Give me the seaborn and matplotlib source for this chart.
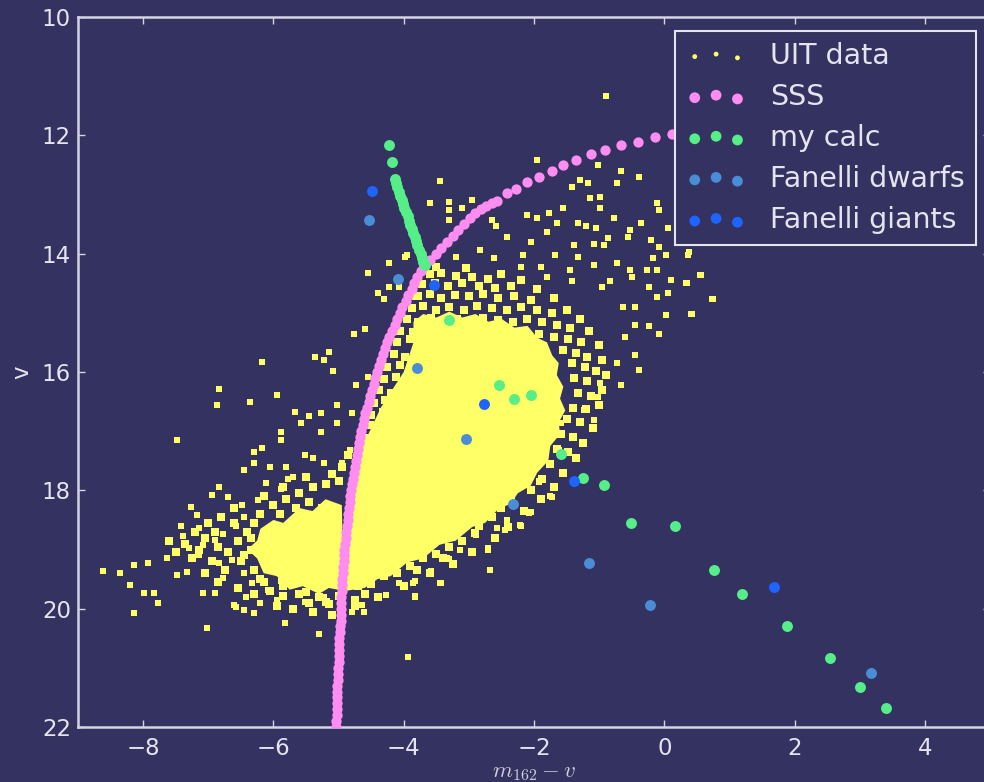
import numpy as np
import matplotlib
matplotlib.use("Agg")
import matplotlib.pyplot as plt
import seaborn as sns

BG = "#333260"
FG = "#e4e4ee"
C_UIT = "#ffff66"
C_SSS = "#ff8cf0"
C_CALC = "#55ee88"
C_DWARF = "#4b8cd7"
C_GIANT = "#1e64ff"

# ---------------- data (colour m162-v, magnitude v) ----------------
sss_points = [
    (-5.04, 22.0), (-5.04, 21.9), (-5.03, 21.8), (-5.03, 21.7), (-5.03, 21.6), (-5.02, 21.5),
    (-5.02, 21.4), (-5.02, 21.3), (-5.01, 21.2), (-5.01, 21.1), (-5.01, 21.0), (-5.00, 20.9),
    (-5.00, 20.8), (-4.99, 20.7), (-4.99, 20.6), (-4.99, 20.5), (-4.98, 20.4), (-4.98, 20.3),
    (-4.97, 20.2), (-4.97, 20.1), (-4.97, 20.0), (-4.96, 19.9), (-4.96, 19.8), (-4.95, 19.7),
    (-4.95, 19.6), (-4.94, 19.5), (-4.93, 19.4), (-4.93, 19.3), (-4.92, 19.2), (-4.92, 19.1),
    (-4.91, 19.0), (-4.90, 18.9), (-4.89, 18.8), (-4.88, 18.7), (-4.87, 18.6), (-4.86, 18.5),
    (-4.85, 18.4), (-4.84, 18.3), (-4.83, 18.2), (-4.82, 18.1), (-4.81, 18.0), (-4.79, 17.9),
    (-4.78, 17.8), (-4.77, 17.7), (-4.75, 17.6), (-4.74, 17.5), (-4.72, 17.4), (-4.70, 17.3),
    (-4.69, 17.2), (-4.67, 17.1), (-4.65, 17.0), (-4.63, 16.9), (-4.61, 16.8), (-4.59, 16.7),
    (-4.56, 16.6), (-4.54, 16.5), (-4.52, 16.4), (-4.49, 16.3), (-4.46, 16.2), (-4.44, 16.1),
    (-4.41, 16.0), (-4.38, 15.9), (-4.35, 15.8), (-4.32, 15.7), (-4.29, 15.6), (-4.25, 15.5),
    (-4.22, 15.4), (-4.18, 15.3), (-4.14, 15.2), (-4.10, 15.1), (-4.06, 15.0), (-4.02, 14.9),
    (-3.97, 14.8), (-3.93, 14.7), (-3.88, 14.6), (-3.84, 14.5), (-3.79, 14.4), (-3.74, 14.3),
    (-3.69, 14.2), (-3.60, 14.1), (-3.51, 14.0), (-3.42, 13.9), (-3.34, 13.8), (-3.25, 13.7),
    (-3.16, 13.6), (-3.07, 13.5), (-2.98, 13.4), (-2.90, 13.31), (-2.81, 13.25), (-2.73, 13.20),
    (-2.65, 13.15), (-2.57, 13.11), (-2.42, 12.98), (-2.27, 12.90), (-2.11, 12.79), (-1.93, 12.70),
    (-1.73, 12.60), (-1.55, 12.50), (-1.35, 12.42), (-1.13, 12.32), (-0.91, 12.25), (-0.66, 12.17),
    (-0.41, 12.11), (-0.15, 12.02), (0.12, 11.97), (0.40, 11.91), (0.68, 11.86),
]

calc_points = [
    (-4.23, 12.16), (-4.18, 12.45),
    (-4.14, 12.74), (-4.12, 12.81), (-4.10, 12.88), (-4.07, 12.95), (-4.05, 13.02), (-4.03, 13.09),
    (-4.01, 13.16), (-3.99, 13.23), (-3.97, 13.30), (-3.94, 13.37), (-3.92, 13.44), (-3.90, 13.51),
    (-3.88, 13.58), (-3.85, 13.65), (-3.83, 13.72), (-3.81, 13.79), (-3.79, 13.86), (-3.76, 13.93),
    (-3.74, 14.00), (-3.72, 14.07), (-3.70, 14.14), (-3.68, 14.19),
    (-3.31, 15.12), (-2.54, 16.22), (-2.30, 16.46), (-2.04, 16.39), (-1.59, 17.39), (-1.25, 17.79),
    (-0.92, 17.91), (-0.51, 18.56), (0.16, 18.60), (0.77, 19.35), (1.19, 19.75), (1.89, 20.29),
    (2.54, 20.83), (3.01, 21.33), (3.41, 21.68),
]

dwarf_points = [
    (-4.54, 13.43), (-4.09, 14.43), (-3.79, 15.93), (-3.05, 17.13), (-2.33, 18.23),
    (-1.15, 19.23), (-0.22, 19.93), (3.18, 21.08),
]

giant_points = [
    (-4.48, 12.94), (-3.54, 14.53), (-2.76, 16.54), (-1.39, 17.84), (1.68, 19.64),
]

# UIT: outline of the saturated part of the cloud
uit_core_outline = [
    (-3.85, 15.15), (-3.70, 15.02), (-3.50, 15.08), (-3.30, 14.98), (-3.10, 15.08), (-2.90, 15.02),
    (-2.70, 15.15), (-2.50, 15.10), (-2.30, 15.25), (-2.10, 15.22), (-1.95, 15.42), (-1.80, 15.50),
    (-1.72, 15.72), (-1.62, 15.85), (-1.65, 16.05), (-1.55, 16.25), (-1.60, 16.45), (-1.52, 16.65),
    (-1.62, 16.85), (-1.60, 17.05), (-1.75, 17.25), (-1.78, 17.50), (-1.95, 17.70), (-2.05, 17.92),
    (-2.25, 18.05), (-2.35, 18.22), (-2.55, 18.32), (-2.75, 18.55), (-2.95, 18.62), (-3.20, 18.85),
    (-3.45, 18.92), (-3.70, 19.15), (-3.95, 19.22), (-4.20, 19.45), (-4.40, 19.50), (-4.60, 19.65),
    (-4.90, 19.70), (-4.92, 19.00), (-4.83, 18.20), (-4.65, 17.30), (-4.35, 16.60), (-4.00, 16.00),
    (-3.85, 15.50),
]
uit_lobe_outline = [
    (-6.20, 18.65), (-6.00, 18.50), (-5.85, 18.55), (-5.60, 18.30), (-5.40, 18.35), (-5.20, 18.15),
    (-4.95, 18.25), (-4.92, 19.70), (-5.15, 19.65), (-5.30, 19.75), (-5.55, 19.62), (-5.75, 19.68),
    (-5.95, 19.45), (-6.15, 19.40), (-6.25, 19.15), (-6.40, 19.00), (-6.25, 18.85),
]

# UIT: crowded stars around the saturated part
uit_dense = [
    (-4.10, 15.50), (-3.90, 15.45), (-4.15, 15.70), (-3.98, 15.75), (-4.25, 15.92), (-4.05, 15.88),
    (-4.30, 16.12), (-4.12, 16.08), (-3.95, 16.15), (-4.38, 16.30), (-4.20, 16.35), (-4.02, 16.28),
    (-4.45, 16.52), (-4.28, 16.48), (-4.10, 16.55), (-4.50, 16.72), (-4.32, 16.68), (-4.52, 16.90),
    (-4.38, 16.95), (-4.58, 17.12), (-4.42, 17.08), (-4.62, 17.30), (-4.65, 17.52), (-4.70, 17.72),
    (-4.72, 17.90), (-4.75, 18.12), (-4.78, 18.30), (-4.72, 18.52), (-4.75, 18.72),
    (-3.88, 14.92), (-3.70, 14.88), (-3.50, 14.95), (-3.30, 14.90), (-3.08, 14.95), (-2.88, 14.88),
    (-2.65, 14.92), (-3.95, 15.10), (-3.78, 15.15), (-3.58, 15.08), (-3.38, 15.12), (-3.18, 15.10),
    (-2.98, 15.15), (-2.78, 15.08), (-2.55, 15.12), (-2.32, 15.15), (-4.05, 15.30), (-3.85, 15.32),
    (-3.65, 15.28), (-2.38, 15.32), (-2.15, 15.38),
    (-3.60, 14.35), (-3.42, 14.32), (-3.20, 14.38), (-2.95, 14.40), (-2.70, 14.42),
    (-3.72, 14.52), (-3.52, 14.50), (-3.32, 14.55), (-3.10, 14.50), (-2.85, 14.55), (-2.60, 14.58),
    (-2.35, 14.55), (-3.78, 14.72), (-3.60, 14.68), (-3.42, 14.75), (-3.22, 14.70), (-3.00, 14.72),
    (-2.78, 14.68), (-2.55, 14.75), (-2.30, 14.72), (-2.05, 14.78), (-2.42, 14.95),
    (-2.20, 14.90), (-1.95, 14.95), (-1.72, 15.00), (-2.10, 15.10), (-1.88, 15.15), (-1.65, 15.20),
    (-1.45, 15.25), (-1.92, 15.35), (-1.70, 15.40), (-1.48, 15.45), (-1.28, 15.50),
    (-1.55, 15.62), (-1.35, 15.68), (-1.18, 15.75), (-1.42, 15.85), (-1.22, 15.92), (-1.05, 15.98),
    (-1.38, 16.10), (-1.18, 16.15), (-1.32, 16.35), (-1.12, 16.40), (-1.40, 16.60), (-1.20, 16.62),
    (-1.50, 16.80), (-1.30, 16.85), (-1.58, 17.05), (-1.40, 17.10), (-1.65, 17.30), (-1.48, 17.35),
    (-1.75, 17.55), (-1.88, 17.80), (-2.05, 18.00), (-2.35, 18.15), (-2.50, 18.30), (-2.65, 18.45),
    (-2.85, 18.60), (-2.90, 18.72), (-3.10, 18.85), (-3.30, 18.95), (-3.50, 19.08), (-3.70, 19.15),
    (-3.90, 19.28), (-4.10, 19.40), (-4.30, 19.45), (-4.50, 19.58), (-4.70, 19.62), (-3.40, 19.15),
    (-3.80, 19.35),
    (-3.50, 14.22), (-3.05, 14.25), (-2.50, 14.35), (-2.20, 14.45), (-1.95, 14.60), (-1.70, 14.75),
    (-1.50, 14.95), (-1.30, 15.10), (-1.15, 15.30), (-1.00, 15.55), (-0.95, 15.80), (-0.90, 16.05),
    (-0.95, 16.30), (-1.00, 16.55), (-1.10, 16.95), (-1.25, 17.20), (-1.35, 17.45), (-1.55, 17.70),
    (-1.70, 17.95), (-1.90, 18.15), (-2.15, 18.35), (-2.40, 18.62), (-2.60, 18.80), (-2.95, 19.05),
    (-3.25, 19.25), (-3.60, 19.40), (-4.00, 19.62), (-4.40, 19.80), (-4.75, 19.95),
    (-6.40, 18.70), (-6.55, 18.85), (-6.35, 19.00), (-6.50, 19.20), (-6.30, 19.35), (-6.15, 19.55),
    (-6.70, 19.05), (-6.85, 18.95), (-6.60, 18.55), (-6.90, 18.70), (-7.05, 18.80), (-6.75, 19.35),
    (-6.95, 19.20), (-7.15, 19.00), (-6.20, 18.40), (-6.00, 18.25), (-5.80, 18.15), (-5.60, 18.05),
    (-5.40, 17.95), (-5.20, 17.90), (-5.00, 17.85), (-5.65, 18.30), (-6.30, 18.55), (-5.50, 17.78),
    (-5.85, 17.95), (-6.15, 18.10), (-5.00, 19.78), (-5.30, 19.80), (-5.60, 19.75), (-5.85, 19.62),
    (-6.05, 19.70), (-5.45, 19.90), (-5.15, 19.92), (-4.60, 19.75), (-4.75, 19.85), (-4.95, 17.60),
    (-5.10, 17.72), (-4.85, 17.40),
    (-6.60, 18.30), (-6.80, 18.45), (-7.00, 18.55), (-7.20, 18.70), (-7.35, 18.90), (-7.25, 19.15),
    (-7.05, 19.40), (-6.85, 19.55), (-6.55, 19.65), (-6.30, 19.75), (-5.95, 19.95), (-5.70, 20.00),
    (-5.40, 20.05), (-5.10, 20.10), (-7.50, 19.05), (-7.60, 18.85),
    (-6.05, 18.70), (-5.90, 18.40), (-5.45, 18.20), (-5.25, 18.30), (-6.35, 18.80), (-6.45, 19.10),
    (-6.20, 19.50), (-5.85, 19.78), (-5.50, 19.72), (-5.20, 19.88),
]

# UIT: isolated stars
uit_sparse = [
    (-1.95, 12.42), (-3.45, 12.77), (-1.02, 12.50), (-0.67, 12.61), (-0.39, 12.70), (-1.30, 12.75),
    (-1.17, 12.81), (-1.42, 12.87), (-0.73, 12.80), (-3.59, 13.14), (-3.31, 13.12), (-3.30, 13.26),
    (-3.31, 13.43), (-3.11, 13.23), (-2.95, 13.10), (-1.14, 13.06), (-0.98, 13.04), (-1.55, 13.23),
    (-0.98, 13.23), (-0.11, 13.15), (-0.08, 13.26), (-2.64, 13.43), (-2.58, 13.54), (-2.11, 13.35),
    (-1.95, 13.40), (-1.77, 13.32), (-1.64, 13.49), (-1.33, 13.49), (-1.20, 13.54), (-1.05, 13.57),
    (-0.77, 13.39), (-0.36, 13.49), (-0.52, 13.60), (0.05, 13.57), (-2.42, 13.71), (-1.80, 13.63),
    (-2.05, 13.80), (-1.39, 13.85), (-1.08, 13.83), (-0.92, 13.85), (-0.86, 13.74), (-0.55, 13.71),
    (-0.20, 13.77), (-0.08, 13.88), (-2.83, 13.94), (-2.17, 14.02), (-1.67, 14.02), (-1.33, 14.05),
    (-0.73, 14.16), (-0.17, 14.08), (0.02, 14.03), (0.36, 14.03), (-3.95, 14.02), (-3.20, 14.05),
    (-2.61, 14.08), (-2.20, 14.22), (-1.89, 14.22), (-1.45, 14.28), (-1.08, 14.19), (-0.52, 14.28),
    (-0.27, 14.28), (-0.11, 14.28), (0.55, 14.36), (0.33, 14.49), (0.11, 14.45), (-0.49, 14.39),
    (-0.83, 14.47), (-0.95, 14.56), (-1.42, 14.47), (-1.80, 14.39), (0.73, 14.77), (0.42, 15.02),
    (0.05, 14.67), (-0.11, 14.73), (-0.23, 14.56), (-0.64, 14.90), (-0.45, 14.90), (0.02, 15.04),
    (-0.23, 15.23), (-0.08, 15.35), (-0.45, 15.21), (-0.61, 15.40), (-0.45, 15.71), (-0.39, 15.97),
    (-0.73, 15.85), (-0.67, 16.22), (-0.98, 16.19), (-1.02, 16.42), (-1.08, 16.81), (-1.23, 16.64),
    (-1.58, 16.87), (-1.61, 17.32), (-1.92, 17.85), (-1.73, 18.11), (-2.08, 18.39), (-2.20, 18.61),
    (-2.42, 18.50), (-2.70, 19.01), (-2.67, 19.35), (-3.45, 19.57), (-3.83, 19.80), (-4.64, 19.94),
    (-4.80, 20.05), (-5.30, 20.42), (-5.83, 20.25), (-6.30, 20.08), (-6.45, 20.02), (-6.58, 19.97),
    (-7.02, 20.33), (-8.14, 20.08), (-7.77, 19.91), (-7.98, 19.74), (-7.83, 19.74), (-8.20, 19.60),
    (-8.36, 19.40), (-8.61, 19.37), (-8.14, 19.26), (-7.92, 19.23), (-7.64, 19.15), (-7.48, 19.43),
    (-7.33, 19.38), (-7.48, 17.15), (-6.86, 16.56), (-6.83, 16.28), (-6.36, 16.50), (-5.95, 16.39),
    (-6.17, 15.83), (-5.36, 15.74), (-5.23, 15.80), (-5.14, 15.66), (-5.08, 15.99), (-4.77, 15.35),
    (-4.59, 15.27), (-4.55, 14.33), (-4.40, 14.67), (-4.30, 14.77), (-4.23, 14.16), (-3.98, 14.05),
    (-4.08, 14.56), (-4.23, 14.56), (-3.83, 14.73), (-4.73, 16.22), (-5.02, 16.56), (-4.80, 16.70),
    (-4.55, 16.08), (-5.67, 16.67), (-5.45, 16.75), (-5.27, 16.70), (-5.58, 16.87),
    (-5.27, 17.01), (-5.89, 17.01), (-5.89, 17.15), (-5.02, 16.87), (-4.83, 17.32), (-6.30, 17.35),
    (-6.17, 17.29), (-6.45, 17.66), (-6.30, 17.54), (-6.05, 17.60), (-5.80, 17.60), (-5.70, 17.77),
    (-5.52, 17.40), (-5.39, 17.46), (-5.23, 17.54), (-4.95, 17.54), (-6.83, 17.94), (-6.95, 18.08),
    (-7.27, 18.28), (-7.17, 18.42), (-7.42, 18.61), (-7.14, 18.64), (-7.39, 18.78), (-7.30, 18.98),
    (-7.08, 18.92), (-7.14, 19.09), (-6.89, 18.84), (-6.77, 18.73), (-6.58, 18.61), (-6.45, 18.45),
    (-6.70, 18.11), (-6.48, 18.25), (-6.23, 18.16), (-6.11, 17.88), (-5.89, 17.97), (-5.77, 17.80),
    (-6.83, 19.23), (-6.64, 19.18), (-6.77, 19.49), (-6.45, 19.40), (-6.33, 19.57), (-6.08, 19.68),
    (-6.42, 19.80), (-7.08, 19.74), (-6.89, 19.74), (-6.08, 19.32), (-5.89, 19.54), (-5.61, 19.77),
    (-5.52, 19.88), (-5.23, 19.80), (-5.14, 19.94), (-5.95, 19.85), (-5.70, 19.60), (-6.20, 19.91),
    (-6.61, 19.94), (-4.61, 20.05), (-4.27, 19.77), (-4.08, 19.57), (-3.83, 19.54), (-3.58, 19.37),
    (-3.33, 19.15), (-3.14, 19.01), (-2.89, 18.75), (-2.45, 18.67), (-2.71, 18.97), (-2.05, 18.37),
    (-2.21, 18.59), (-1.75, 18.10), (-1.93, 17.86), (-2.57, 18.63), (-3.31, 19.16), (-3.43, 19.57),
    (-3.85, 19.56), (-3.82, 19.79), (-3.94, 20.82), (-0.90, 11.34), (0.57, 14.36), (0.75, 14.77),
    (0.41, 15.02), (0.38, 13.98), (0.35, 14.50), (0.06, 14.66),
]

xlim = (-9, 5)
ylim = (22, 10)
xticks = [-8, -6, -4, -2, 0, 2, 4]
yticks = [10, 12, 14, 16, 18, 20, 22]

# ---------------- drawing ----------------
sns.set_style("ticks")
plt.rcParams["font.family"] = ["DejaVu Sans"]
plt.rcParams["mathtext.fontset"] = "cm"

fig = plt.figure(figsize=(9.84, 7.82), dpi=100, facecolor=BG)
ax = fig.add_axes([78 / 984, 55 / 782, (990 - 78) / 984, 710 / 782])
ax.set_facecolor(BG)


def xy(points):
    arr = np.asarray(points, dtype=float)
    return arr[:, 0], arr[:, 1]


cx, cy = xy(uit_core_outline)
ax.fill(cx, cy, color=C_UIT, lw=0, zorder=1.5)
lx, ly = xy(uit_lobe_outline)
ax.fill(lx, ly, color=C_UIT, lw=0, zorder=1.5)

dx, dy = xy(uit_dense)
sns.scatterplot(x=dx, y=dy, ax=ax, color=C_UIT, s=40, marker="s", linewidth=0,
                zorder=2, legend=False)
ux, uy = xy(uit_sparse)
sns.scatterplot(x=ux, y=uy, ax=ax, color=C_UIT, s=16, marker="s", linewidth=0,
                zorder=2, legend=False)

sx, sy = xy(sss_points)
sns.scatterplot(x=sx, y=sy, ax=ax, color=C_SSS, s=55, marker="o", linewidth=0,
                zorder=3, legend=False)
gx, gy = xy(calc_points)
sns.scatterplot(x=gx, y=gy, ax=ax, color=C_CALC, s=62, marker="o", linewidth=0,
                zorder=4, legend=False)
wx, wy = xy(dwarf_points)
sns.scatterplot(x=wx, y=wy, ax=ax, color=C_DWARF, s=62, marker="o", linewidth=0,
                zorder=5, legend=False)
bx, by = xy(giant_points)
sns.scatterplot(x=bx, y=by, ax=ax, color=C_GIANT, s=62, marker="o", linewidth=0,
                zorder=6, legend=False)

ax.set_xlim(*xlim)
ax.set_ylim(*ylim)
ax.set_xticks(xticks)
ax.set_yticks(yticks)
ax.set_xticklabels([f"\u2212{abs(t)}" if t < 0 else str(t) for t in xticks])

for sp in ax.spines.values():
    sp.set_visible(True)
    sp.set_color("#d4d4e2")
    sp.set_linewidth(1.8)
ax.tick_params(axis="both", which="major", direction="in", length=5, width=1,
               color="#d4d4e2", labelcolor=FG, labelsize=16.5,
               top=True, right=True)
ax.tick_params(axis="x", pad=7)
ax.tick_params(axis="y", pad=5)

ax.set_xlabel(r"$m_{162}-v$", color="#cfcfdc", fontsize=16.5, labelpad=0)
ax.set_ylabel("v", color=FG, fontsize=16.5, labelpad=6)

# legend built from proxy scatters
handles = []
labels = ["UIT data", "SSS", "my calc", "Fanelli dwarfs", "Fanelli giants"]
sizes = [12, 60, 60, 60, 60]
cols = [C_UIT, C_SSS, C_CALC, C_DWARF, C_GIANT]
for c, s in zip(cols, sizes):
    handles.append(ax.scatter([], [], s=s, color=c, marker="o", linewidth=0))
leg = ax.legend(handles, labels, loc="upper right", scatterpoints=3, fontsize=20.5,
                frameon=True, fancybox=False, facecolor=BG, edgecolor=FG,
                framealpha=1, labelcolor=FG, borderaxespad=0.5,
                handletextpad=0.85, labelspacing=0.46, handlelength=2.1,
                borderpad=0.38)
leg.get_frame().set_linewidth(1.5)
leg.set_zorder(10)

fig.savefig("out.png", dpi=100, facecolor=BG)
